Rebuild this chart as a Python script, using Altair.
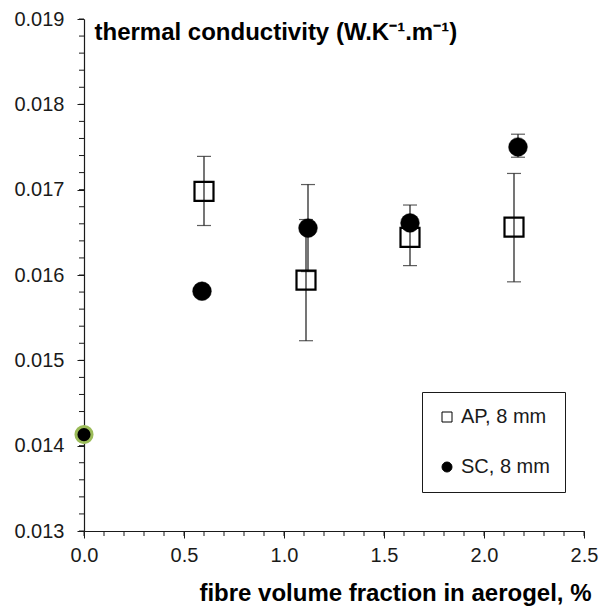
import altair as alt
import pandas as pd

# ---------------- data ----------------
ap_label = "AP, 8 mm"
sc_label = "SC, 8 mm"

ap_x = [0.60, 1.11, 1.63, 2.15]
ap_y = [0.01698, 0.01594, 0.01644, 0.01656]
ap_lo = [0.01658, 0.01523, 0.01611, 0.01592]
ap_hi = [0.01739, 0.01665, 0.01682, 0.01719]

sc_x = [0.59, 1.12, 1.63, 2.17]
sc_y = [0.01581, 0.01655, 0.01661, 0.01750]
sc_lo = [0.01577, 0.01604, 0.01656, 0.01738]
sc_hi = [0.01585, 0.01706, 0.01666, 0.01765]

ref_x = [0.0]
ref_y = [0.01413]

x_major = [0.0, 0.5, 1.0, 1.5, 2.0, 2.5]
y_major = [0.013, 0.014, 0.015, 0.016, 0.017, 0.018, 0.019]
x_minor = [round(i * 0.1, 1) for i in range(26)]
y_minor = [round(0.013 + i * 0.0002, 4) for i in range(31)]

x_title = "fibre volume fraction in aerogel, %"
y_title = "thermal conductivity (W.K\u207b\u00b9.m\u207b\u00b9)"

# ---------------- tables ----------------
ap_df = pd.DataFrame({"series": [ap_label] * len(ap_x), "x": ap_x, "y": ap_y, "lo": ap_lo, "hi": ap_hi})
sc_df = pd.DataFrame({"series": [sc_label] * len(sc_x), "x": sc_x, "y": sc_y, "lo": sc_lo, "hi": sc_hi})
df = pd.concat([ap_df, sc_df], ignore_index=True)
ref = pd.DataFrame({"x": ref_x, "y": ref_y})
xm = pd.DataFrame({"x": x_minor})
ym = pd.DataFrame({"y": y_minor})

FONT = "Liberation Sans"
INK = "#1a1a1a"

x_scale = alt.Scale(domain=[0, 2.5], nice=False, zero=False)
y_scale = alt.Scale(domain=[0.013, 0.019], nice=False, zero=False)

main_x_axis = alt.Axis(values=x_major, format=".1f", grid=False, orient="bottom",
                       labelFlush=False, labelOverlap=False,
                       tickSize=7, tickColor=INK, tickWidth=1,
                       domainColor=INK, domainWidth=1.2,
                       labelFont=FONT, labelFontSize=20, labelColor=INK, labelPadding=7,
                       titleFont=FONT, titleFontSize=24, titleFontWeight="bold",
                       titleColor="#000", titleX=507, titleY=69,
                       titleAlign="right", titleBaseline="alphabetic")
main_y_axis = alt.Axis(values=y_major, format=".3f", grid=False, orient="left",
                       labelFlush=False, labelOverlap=False,
                       tickSize=7, tickColor=INK, tickWidth=1,
                       domainColor=INK, domainWidth=1.2,
                       labelFont=FONT, labelFontSize=20, labelColor=INK, labelPadding=13,
                       titleFont=FONT, titleFontSize=24, titleFontWeight="bold",
                       titleColor="#000", titleAngle=0, titleX=10, titleY=20,
                       titleAlign="left", titleBaseline="alphabetic")


def X(field):
    return alt.X(field, type="quantitative", scale=x_scale, axis=main_x_axis, title=x_title)


def Y(field):
    return alt.Y(field, type="quantitative", scale=y_scale, axis=main_y_axis, title=y_title)


legend = alt.Legend(title=None, orient="none", legendX=338, legendY=373,
                    direction="vertical", padding=15, rowPadding=30,
                    strokeColor=INK, fillColor="white",
                    labelFont=FONT, labelFontSize=20, labelColor=INK, labelOffset=4,
                    labelExpr="datum.label + '\u00a0\u00a0\u00a0'",
                    symbolSize=100, symbolStrokeWidth=1)

shape_scale = alt.Scale(domain=[ap_label, sc_label], range=["square", "circle"])
fill_scale = alt.Scale(domain=[ap_label, sc_label], range=["white", "black"])

# minor ticks (positions through the scales)
y_minor_ticks = alt.Chart(ym).mark_rule(color=INK, strokeWidth=1).encode(
    y=Y("y"), x=alt.value(-5), x2=alt.value(0),
)
x_minor_ticks = alt.Chart(xm).mark_rule(color=INK, strokeWidth=1).encode(
    x=X("x"), y=alt.value(512), y2=alt.value(517),
)

bars = alt.Chart(df).mark_rule(color=INK, strokeWidth=1.2).encode(
    x=X("x"), y=Y("lo"), y2="hi:Q",
)
caps_lo = alt.Chart(df).mark_tick(color=INK, orient="horizontal", size=14, thickness=1.2).encode(
    x=X("x"), y=Y("lo"),
)
caps_hi = alt.Chart(df).mark_tick(color=INK, orient="horizontal", size=14, thickness=1.2).encode(
    x=X("x"), y=Y("hi"),
)

ap_pts = alt.Chart(ap_df).mark_point(filled=False, size=361, strokeWidth=2.2,
                                     stroke="black", opacity=1).encode(
    x=X("x"), y=Y("y"),
    shape=alt.Shape("series:N", scale=shape_scale, legend=legend),
    fill=alt.Fill("series:N", scale=fill_scale, legend=legend),
    fillOpacity=alt.value(0),
)
sc_pts = alt.Chart(sc_df).mark_point(filled=True, size=350, strokeWidth=0.5,
                                     stroke="black", opacity=1).encode(
    x=X("x"), y=Y("y"),
    shape=alt.Shape("series:N", scale=shape_scale, legend=legend),
    fill=alt.Fill("series:N", scale=fill_scale, legend=legend),
)

ref_pt = alt.Chart(ref).mark_point(filled=True, size=260, fill="black", stroke="#9BBB59",
                                  strokeWidth=3, opacity=1).encode(
    x=X("x"), y=Y("y"),
)

chart = alt.layer(bars, y_minor_ticks, x_minor_ticks, caps_lo, caps_hi,
                  ap_pts, sc_pts, ref_pt).properties(
    width=500, height=512,
    autosize=alt.AutoSizeParams(type="none"),
    padding={"left": 84, "top": 19, "right": 16, "bottom": 76},
    background="white",
).configure_view(strokeWidth=0)

chart.save("out.html", embed_options={"renderer": "svg", "actions": False})
